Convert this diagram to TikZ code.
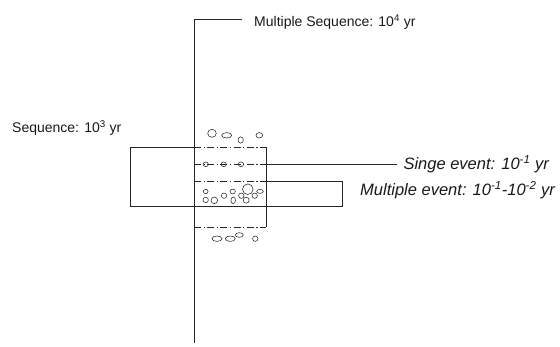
\documentclass[tikz,border=0pt]{standalone}
\usepackage{fontspec}
\setmainfont{Liberation Sans}
\begin{document}
\begin{tikzpicture}[x=1pt,y=-1pt,
  solidline/.style={draw=black!85, line width=0.8pt},
  dashdotline/.style={draw=black!85, line width=0.9pt, dash pattern=on 7pt off 2.5pt on 1.2pt off 2.5pt},
  bubble/.style={draw=black!85, line width=0.55pt},
  lbl/.style={font=\fontsize{14}{16}\selectfont, inner sep=0pt, text=black!90},
  ilbl/.style={lbl, font=\fontsize{16.5}{18}\selectfont\itshape}]
\useasboundingbox (0,0) rectangle (560,347);
% key points
\coordinate (vtop) at (194,19);
\coordinate (vbot) at (194,343);
\coordinate (sq1) at (130.5,147);
\coordinate (sq2) at (194,147);
\coordinate (sq3) at (266,147);
\coordinate (sq4) at (266,227);
\coordinate (sq5) at (130.5,206);
\coordinate (me2) at (342,206);
\coordinate (me1) at (342,181);
\coordinate (d2a) at (194,181);
\coordinate (d2b) at (266,181);
\coordinate (d1a) at (194,164);
\coordinate (d1b) at (266,164);
\coordinate (d3a) at (194,227);
% labels
\node[lbl, anchor=base west] (ms) at (254,26.5) {Multiple Sequence: 10\textsuperscript{4} yr};
\node[lbl, anchor=base west] (seq) at (12,132.5) {Sequence: 10\textsuperscript{3} yr};
\node[ilbl, anchor=base east] (se) at (549,169.5) {Singe event: 10\textsuperscript{-1} yr};
\node[ilbl, anchor=base east] (me) at (555,196) {Multiple event: 10\textsuperscript{-1}-10\textsuperscript{-2} yr};
% main axis
\draw[solidline] (vbot) -- (vtop) -- ([xshift=-12pt]ms.west |- vtop);
% sequence box
\draw[solidline] (sq2) -- (sq1) -- (sq5) -- (me2) -- (me1) -- (d2b);
\draw[solidline] (sq3) -- (sq4);
% dash-dot bands
\draw[dashdotline] (sq2) -- (sq3);
\draw[dashdotline] (d1a) -- (d1b);
\draw[dashdotline] (d2a) -- (d2b);
\draw[dashdotline] (d3a) -- (sq4);
% single event line
\draw[solidline] (d1b) -- ([xshift=-6pt]se.west |- d1b);
% bubbles top
\draw[bubble] (212,133.3) ellipse [x radius=4.3, y radius=4];
\draw[bubble] (226.7,135.3) ellipse [x radius=5, y radius=2.7];
\draw[bubble] (240.7,140) ellipse [x radius=2.6, y radius=3.2];
\draw[bubble] (259.3,135.3) ellipse [x radius=3.3, y radius=2.7];
% single event bubbles
\foreach \x in {205.7,223.7,241}
  \draw[bubble] (\x,164.3) ellipse [x radius=2.7, y radius=2.3];
% multiple event bubbles
\draw[bubble] (205.7,191.5) ellipse [x radius=2.4, y radius=2.2];
\draw[bubble] (205.7,200) ellipse [x radius=2.7, y radius=2.7];
\draw[bubble] (214.3,200.3) ellipse [x radius=3.3, y radius=3.3];
\draw[bubble] (224,195.7) ellipse [x radius=2.7, y radius=2.7];
\draw[bubble] (232.7,191.5) ellipse [x radius=2.7, y radius=2.4];
\draw[bubble] (233.2,200.3) ellipse [x radius=2.3, y radius=3.3];
\draw[bubble] (241.3,195.7) ellipse [x radius=2.7, y radius=2.7];
\draw[bubble] (247.8,189.2) ellipse [x radius=5.3, y radius=5.3];
\draw[bubble] (246.2,200.2) ellipse [x radius=3, y radius=3];
\draw[bubble] (254.7,195.7) ellipse [x radius=2.7, y radius=2.7];
\draw[bubble] (260,191.4) ellipse [x radius=3.3, y radius=2];
% bottom bubbles
\draw[bubble] (217,238.7) ellipse [x radius=5, y radius=2.7];
\draw[bubble] (230.3,238.7) ellipse [x radius=5, y radius=2.7];
\draw[bubble] (239.3,235) ellipse [x radius=4, y radius=2.3];
\draw[bubble] (255.3,238.7) ellipse [x radius=2.7, y radius=2.7];
\end{tikzpicture}
\end{document}
